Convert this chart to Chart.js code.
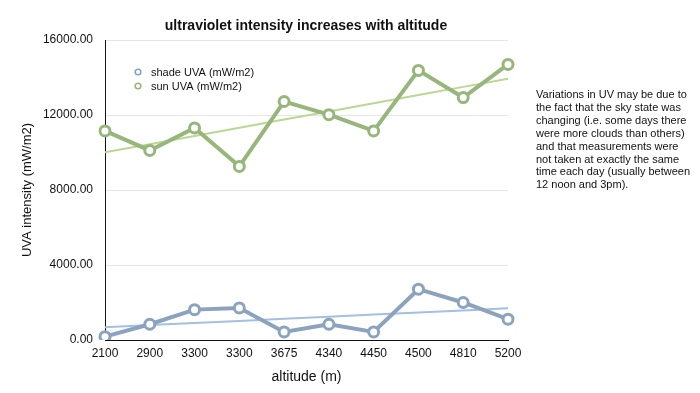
<!DOCTYPE html>
<html>
<head>
<meta charset="utf-8">
<script src="https://cdn.jsdelivr.net/npm/chart.js@4.4.3/dist/chart.umd.min.js"></script>
<style>
    html, body { margin: 0; padding: 0; background: #fff; }
    body { width: 700px; height: 393px; position: relative; overflow: hidden; font-family: "Liberation Sans", Arial, Helvetica, sans-serif; }
    #chart-wrap { position: absolute; left: 0; top: 0; width: 700px; height: 393px; }
    #title { position: absolute; left: 0; top: 17px; width: 612px; text-align: center; font-size: 14px; font-weight: bold; line-height: 16px; color: #111; }
    #note { position: absolute; left: 536px; top: 88px; width: 164px; font-size: 11px; line-height: 12.9px; color: #111; }
</style>
</head>
<body>
<div id="chart-wrap"><canvas id="uv-chart" width="700" height="393"></canvas></div>
<div id="title">ultraviolet intensity increases with altitude</div>
<div id="note">Variations in UV may be due to<br>the fact that the sky state was<br>changing (i.e. some days there<br>were more clouds than others)<br>and that measurements were<br>not taken at exactly the same<br>time each day (usually between<br>12 noon and 3pm).</div>
<script>
const altitudes = ['2100', '2900', '3300', '3300', '3675', '4340', '4450', '4500', '4810', '5200'];
const shadeUVA = [180, 840, 1620, 1710, 430, 840, 430, 2710, 2000, 1110];
const sunUVA = [11150, 10110, 11310, 9260, 12720, 12020, 11150, 14380, 12930, 14700];
const yTicks = [0, 4000, 8000, 12000, 16000];

const SHADE = '#8ba3bf';
const SHADE_TREND = '#a3bfe2';
const SUN = '#96b67b';
const SUN_TREND = '#b9d98f';

// least squares trend line over the category index
function trendOf(values) {
    const n = values.length;
    const mx = (n - 1) / 2;
    const my = values.reduce((a, b) => a + b, 0) / n;
    let sxy = 0, sxx = 0;
    values.forEach((v, i) => {
        sxy += (i - mx) * (v - my);
        sxx += (i - mx) * (i - mx);
    });
    const slope = sxy / sxx;
    return values.map((v, i) => my + slope * (i - mx));
}

const legendItems = [
    { label: 'shade UVA (mW/m2)', color: SHADE },
    { label: 'sun UVA (mW/m2)', color: SUN }
];

// legend drawn inside the plot, top left
const insideLegend = {
    id: 'insideLegend',
    afterDraw(chart) {
        const ctx = chart.ctx;
        const x0 = chart.chartArea.left + 33;
        const y0 = chart.chartArea.top + 32;
        ctx.save();
        ctx.font = '11px "Liberation Sans", Arial, sans-serif';
        ctx.textBaseline = 'middle';
        legendItems.forEach((item, i) => {
            const y = y0 + i * 14;
            ctx.beginPath();
            ctx.arc(x0, y, 2.8, 0, Math.PI * 2);
            ctx.fillStyle = '#fff';
            ctx.fill();
            ctx.lineWidth = 1.6;
            ctx.strokeStyle = item.color;
            ctx.stroke();
            ctx.fillStyle = '#111';
            ctx.fillText(item.label, x0 + 13, y + 0.5);
        });
        ctx.restore();
    }
};

const pointStyle = {
    borderWidth: 4,
    pointRadius: 5,
    pointHoverRadius: 5,
    pointBorderWidth: 3,
    pointBackgroundColor: '#fff',
    tension: 0
};

new Chart(document.getElementById('uv-chart'), {
    type: 'line',
    data: {
        labels: altitudes,
        datasets: [
            { label: 'shade UVA (mW/m2)', data: shadeUVA, borderColor: SHADE, pointBorderColor: SHADE, order: 1, ...pointStyle },
            { label: 'sun UVA (mW/m2)', data: sunUVA, borderColor: SUN, pointBorderColor: SUN, order: 1, ...pointStyle },
            { label: 'shade trend', data: trendOf(shadeUVA), borderColor: SHADE_TREND, borderWidth: 2, pointRadius: 0, order: 2 },
            { label: 'sun trend', data: trendOf(sunUVA), borderColor: SUN_TREND, borderWidth: 2, pointRadius: 0, order: 2 }
        ]
    },
    options: {
        responsive: false,
        animation: false,
        layout: { padding: { top: 40, right: 192, bottom: 0, left: 0 } },
        plugins: {
            legend: { display: false },
            title: { display: false },
            tooltip: { enabled: false }
        },
        scales: {
            x: {
                offset: false,
                grid: { display: false, drawTicks: false },
                border: { display: true, color: '#111', width: 1 },
                ticks: { color: '#111', font: { size: 12, family: '"Liberation Sans", Arial, sans-serif' }, padding: 6, maxRotation: 0, autoSkip: false },
                title: { display: true, text: 'altitude (m)', color: '#111', font: { size: 14, family: '"Liberation Sans", Arial, sans-serif' }, padding: { top: 0, bottom: 7 } },
                afterFit: (scale) => { scale.height = 53; }
            },
            y: {
                min: 0,
                max: 16000,
                grid: { color: '#e6e6e6', drawTicks: false },
                border: { display: true, color: '#111', width: 1 },
                afterBuildTicks: (scale) => { scale.ticks = yTicks.map(v => ({ value: v })); },
                ticks: {
                    color: '#111',
                    padding: 12,
                    font: { size: 12, family: '"Liberation Sans", Arial, sans-serif' },
                    callback: (v) => Number(v).toFixed(2)
                },
                title: { display: true, text: 'UVA intensity (mW/m2)', color: '#111', font: { size: 13, family: '"Liberation Sans", Arial, sans-serif' }, padding: { top: 20, bottom: 0 } },
                afterFit: (scale) => { scale.width = 105; }
            }
        }
    },
    plugins: [insideLegend]
});
</script>
</body>
</html>
